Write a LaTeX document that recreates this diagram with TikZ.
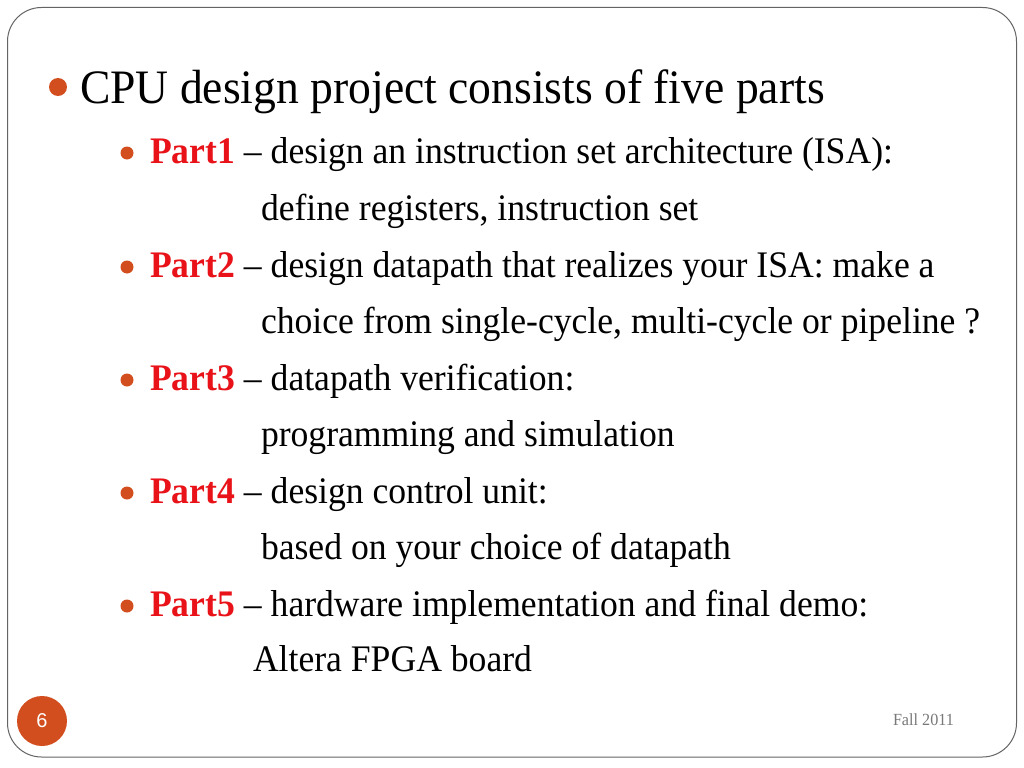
\documentclass[tikz,border=0pt]{standalone}
\usepackage{fontspec}
\setmainfont{Liberation Serif}[FakeStretch=0.95]
\newfontfamily\numfont{Liberation Sans}
\definecolor{bulletc}{RGB}{210,78,30}
\definecolor{partred}{RGB}{232,18,24}
\definecolor{framec}{RGB}{100,100,100}
\definecolor{footc}{RGB}{120,120,120}
\begin{document}
\begin{tikzpicture}[x=1bp,y=-1bp,
  txt/.style={anchor=base west,inner sep=0pt,outer sep=0pt},
  lvlone/.style={txt,font=\fontsize{48bp}{56bp}\selectfont},
  lvltwo/.style={txt,font=\fontsize{37.5bp}{42bp}\selectfont},
  bigdot/.style={circle,fill=bulletc,inner sep=0pt,minimum size=18bp},
  smalldot/.style={circle,fill=bulletc,inner sep=0pt,minimum size=13bp},
  part/.style={text=partred,font=\bfseries}]
\useasboundingbox (0,0) rectangle (1024,768);
\fill[white] (0,0) rectangle (1024,768);
\draw[framec,line width=1bp,rounded corners=34bp] (7.5,7.5) rectangle (1016.5,757);

\node[bigdot] (b0) at (58,87) {};
\node[lvlone] (t0) at (80,103) {CPU design project consists of five parts};

\node[smalldot] (b1) at (127,153) {};
\node[lvltwo] (t1) at (150,163) {\textcolor{partred}{\bfseries Part1} -- design an instruction set architecture (ISA):};
\node[lvltwo] (c1) at (261,220) {define registers, instruction set};

\node[smalldot] (b2) at (127,267) {};
\node[lvltwo] (t2) at (150,277) {\textcolor{partred}{\bfseries Part2} -- design datapath that realizes your ISA: make a};
\node[lvltwo] (c2) at (261,333) {choice from single-cycle, multi-cycle or pipeline ?};

\node[smalldot] (b3) at (127,380) {};
\node[lvltwo] (t3) at (150,390) {\textcolor{partred}{\bfseries Part3} -- datapath verification:};
\node[lvltwo] (c3) at (261,446) {programming and simulation};

\node[smalldot] (b4) at (127,493) {};
\node[lvltwo] (t4) at (150,503) {\textcolor{partred}{\bfseries Part4} -- design control unit:};
\node[lvltwo] (c4) at (261,559) {based on your choice of datapath};

\node[smalldot] (b5) at (127,606) {};
\node[lvltwo] (t5) at (150,616) {\textcolor{partred}{\bfseries Part5} -- hardware implementation and final demo:};
\node[lvltwo] (c5) at (253,671) {Altera FPGA board};

\node[circle,fill=bulletc,inner sep=0pt,minimum size=50bp,text=white,font=\numfont\fontsize{20bp}{24bp}\selectfont] (pg) at (42,721) {6};
\node[txt,text=footc,font=\fontsize{17bp}{20bp}\selectfont] (ft) at (893,725) {Fall 2011};
\end{tikzpicture}
\end{document}
